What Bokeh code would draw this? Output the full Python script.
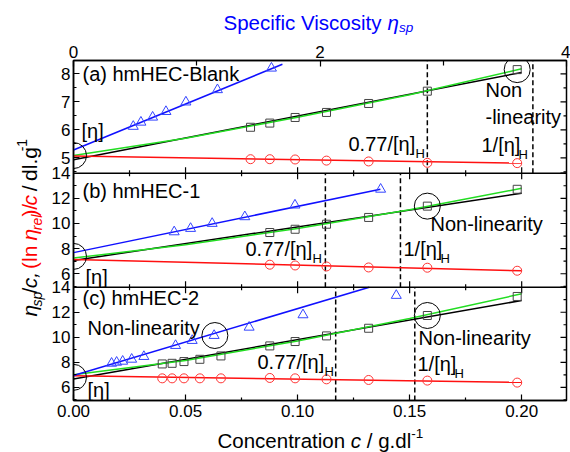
import math
from bokeh.plotting import figure
from bokeh.layouts import column, row
from bokeh.models import Range1d, LinearAxis, FixedTicker, NumeralTickFormatter, Label, Span
from bokeh.embed import file_html
from bokeh.resources import INLINE

# ---------------- data ----------------
# panel (a) hmHEC-Blank
C_A = [0.079, 0.0876, 0.0989, 0.1129, 0.1317, 0.1579, 0.198]
SQ_A = [6.09, 6.24, 6.44, 6.62, 6.94, 7.38, 8.15]          # eta_sp / c
CI_A = [4.95, 4.95, 4.94, 4.90, 4.87, 4.82, 4.81]          # (ln eta_rel) / c
ETA_A = [0.485, 0.547, 0.642, 0.750, 0.912, 1.168, 1.606]  # eta_sp (top axis)
TR_A = [6.12, 6.27, 6.45, 6.65, 6.99, 7.43, 8.20]
# panel (b) hmHEC-1
C_B = [0.0876, 0.0989, 0.1129, 0.1317, 0.1579, 0.198]
SQ_B = [9.28, 9.54, 9.94, 10.48, 11.38, 12.72]
CI_B = [6.72, 6.66, 6.58, 6.50, 6.48, 6.24]
ETA_B = [0.817, 0.950, 1.125, 1.390, 1.797, 2.492]
TR_B = [9.33, 9.60, 10.00, 10.53, 11.46, 12.72]
# panel (c) hmHEC-2
C_C = [0.0396, 0.0440, 0.0493, 0.0564, 0.0658, 0.0876, 0.0989, 0.1129, 0.1317, 0.1579, 0.198]
SQ_C = [7.87, 7.92, 8.06, 8.24, 8.51, 9.31, 9.66, 10.11, 10.72, 11.74, 13.26]
CI_C = [6.72, 6.72, 6.72, 6.72, 6.72, 6.75, 6.72, 6.64, 6.59, 6.54, 6.38]
ETA_C = [0.309, 0.350, 0.399, 0.472, 0.571, 0.828, 0.963, 1.141, 1.425, 1.862, 2.619]
TR_C = [7.92, 8.00, 8.08, 8.24, 8.46, 9.34, 9.74, 10.14, 10.80, 11.79, 13.34]

# fitted lines
FIT_C = [0.0, 0.2]
GREEN_C = [0.0, 0.05, 0.10, 0.15, 0.20]
BLK_A = [4.93, 8.05]; RED_A = [5.06, 4.81]; GRN_A = [5.08, 5.70, 6.45, 7.25, 8.18]
BLUE_ETA_A = [0.0, 1.695]; BLUE_A = [5.28, 8.34]
BLK_B = [7.06, 12.40]; RED_B = [7.14, 6.24]; GRN_B = [7.25, 8.30, 9.60, 11.10, 12.80]
BLUE_ETA_B = [0.0, 2.49]; BLUE_B = [7.68, 12.72]
BLK_C = [6.67, 12.94]; RED_C = [6.92, 6.40]; GRN_C = [7.00, 8.15, 9.70, 11.50, 13.47]
BLUE_ETA_C = [0.0, 2.40]; BLUE_C = [6.95, 14.0]

# dashed markers 0.77/[eta]_H and 1/[eta]_H
DASH_A = [0.1579, 0.205]
DASH_B = [0.1124, 0.1459]
DASH_C = [0.1170, 0.1523]

# ring highlights
RING_X_A = [0.0, 0.198]; RING_Y_A = [5.08, 8.15]
RING_X_B = [0.0, 0.1579]; RING_Y_B = [7.38, 11.38]
RING_X_C = [0.0, 0.1579]; RING_Y_C = [6.80, 11.74]
RING_ETA_C = [1.147]; RING_ETA_Y_C = [10.14]

# ticks
X_TICKS = [0.0, 0.05, 0.10, 0.15, 0.20]
X_MINOR = [0.025, 0.075, 0.125, 0.175]
ETA_TICKS = [0, 2, 4]
ETA_MINOR = [1, 3]
Y_TICKS = {"a": [5, 6, 7, 8], "b": [6, 8, 10, 12, 14], "c": [6, 8, 10, 12, 14]}
Y_MINOR = {"a": [4.5, 5.5, 6.5, 7.5], "b": [5, 7, 9, 11, 13], "c": [5, 7, 9, 11, 13]}

# ---------------- layout (canvas pixels) ----------------
FONT = "Liberation Sans"
W, H = 570, 452
FL, FR, FT, FB = 73, 566, 60, 400       # plot frame in the page
TOP_H = 36                              # strip holding the top title
LEFT_W = 46                             # strip holding the rotated y title
BOT_Y = 425                             # where the bottom title strip starts
GH = FB - FT
PANELS = {"a": (60.0, 172.7, 4.45, 8.475),
          "b": (172.7, 286.7, 4.93, 14.0),
          "c": (286.7, 400.0, 4.95, 14.0)}


def gpos(name, v):
    top, bot, lo, hi = PANELS[name]
    g0, g1 = FB - bot, FB - top
    return round(g0 + (v - lo) * (g1 - g0) / (hi - lo), 3)


def yrange(name):
    top, bot, lo, hi = PANELS[name]
    g0, g1 = FB - bot, FB - top
    k = (hi - lo) / (g1 - g0)
    return Range1d(lo - g0 * k, hi + (GH - g1) * k)


p = figure(width=W - LEFT_W, height=BOT_Y - TOP_H, x_range=Range1d(0, 0.22), y_range=Range1d(0, GH),
           x_axis_type=None, y_axis_type=None, output_backend="svg",
           toolbar_location=None, min_border_left=FL - LEFT_W, min_border_right=W - FR,
           min_border_top=FT - TOP_H, min_border_bottom=BOT_Y - FB)
p.outline_line_color = "black"
p.outline_line_width = 1.5
p.background_fill_color = "white"
p.border_fill_color = "white"
p.extra_x_ranges = {"visc": Range1d(0, 4), "px": Range1d(0, FR - FL)}
p.extra_y_ranges = {k: yrange(k) for k in PANELS}


def style_axis(ax, standoff):
    ax.axis_line_width = 1.5
    ax.major_tick_in = 6
    ax.major_tick_out = 0
    ax.minor_tick_in = 3
    ax.minor_tick_out = 0
    ax.major_tick_line_width = 1.2
    ax.minor_tick_line_width = 1.2
    ax.major_label_text_font = FONT
    ax.major_label_text_font_size = "17px"
    ax.major_label_text_color = "black"
    ax.major_label_standoff = standoff


xb = LinearAxis(ticker=FixedTicker(ticks=X_TICKS, minor_ticks=X_MINOR),
                formatter=NumeralTickFormatter(format="0.00"))
style_axis(xb, 4)
p.add_layout(xb, "below")

xt = LinearAxis(x_range_name="visc", ticker=FixedTicker(ticks=ETA_TICKS, minor_ticks=ETA_MINOR))
style_axis(xt, 3)
xt.minor_tick_in = 5
p.add_layout(xt, "above")

gt, gm, ov = [], [], {}
for k in PANELS:
    for v in Y_TICKS[k]:
        g = gpos(k, v)
        gt.append(g)
        ov[g] = str(v)
    for v in Y_MINOR[k]:
        gm.append(gpos(k, v))
yl = LinearAxis(ticker=FixedTicker(ticks=gt, minor_ticks=gm), major_label_overrides=ov)
style_axis(yl, 3)
p.add_layout(yl, "left")

# panel separators with their ticks
for k in ("b", "c"):
    gb = round(FB - PANELS[k][0], 3)
    p.add_layout(Span(location=gb, dimension="width", line_color="black", line_width=1.5))
    for ticks, ln in ((X_TICKS, 6), (X_MINOR, 3)):
        n = len(ticks)
        p.segment(x0=ticks, x1=ticks, y0=[gb - ln] * n, y1=[gb + ln] * n,
                  line_color="black", line_width=1.2)

# right-side ticks
rx = FR - FL
p.segment(x0=[rx] * len(gt), x1=[rx - 6] * len(gt), y0=gt, y1=gt,
          x_range_name="px", line_color="black", line_width=1.2)
p.segment(x0=[rx] * len(gm), x1=[rx - 3] * len(gm), y0=gm, y1=gm,
          x_range_name="px", line_color="black", line_width=1.2)

BLUE, RED, GREEN, GREY = "#1010ff", "#ff1010", "#22dd22", "#444444"
series = {
    "a": (C_A, SQ_A, CI_A, ETA_A, TR_A, BLK_A, RED_A, GRN_A, BLUE_ETA_A, BLUE_A, DASH_A, RING_X_A, RING_Y_A),
    "b": (C_B, SQ_B, CI_B, ETA_B, TR_B, BLK_B, RED_B, GRN_B, BLUE_ETA_B, BLUE_B, DASH_B, RING_X_B, RING_Y_B),
    "c": (C_C, SQ_C, CI_C, ETA_C, TR_C, BLK_C, RED_C, GRN_C, BLUE_ETA_C, BLUE_C, DASH_C, RING_X_C, RING_Y_C),
}
for k, (cx, sq, ci, eta, tr, blk, red, grn, beta, blu, dash, rgx, rgy) in series.items():
    top, bot, lo, hi = PANELS[k]
    p.segment(x0=dash, x1=dash, y0=[lo] * len(dash), y1=[hi] * len(dash), y_range_name=k,
              line_color="black", line_width=1.5, line_dash="5 3")
    p.line(FIT_C, blk, y_range_name=k, line_color="black", line_width=1.5)
    p.line(GREEN_C, grn, y_range_name=k, line_color=GREEN, line_width=1.5)
    p.line(FIT_C, red, y_range_name=k, line_color=RED, line_width=1.5)
    p.line(beta, blu, x_range_name="visc", y_range_name=k, line_color=BLUE, line_width=1.5)
    p.scatter(cx, sq, y_range_name=k, marker="square", size=8, fill_color=None,
              line_color=GREY, line_width=1)
    p.scatter(cx, ci, y_range_name=k, marker="circle", size=9, fill_color=None,
              line_color="#ff3333", line_width=1)
    p.scatter(eta, tr, x_range_name="visc", y_range_name=k, marker="triangle", size=10,
              fill_color=None, line_color="#3344ff", line_width=1)
    p.scatter(rgx, rgy, y_range_name=k, marker="circle", size=26, fill_color=None,
              line_color="black", line_width=1)
p.scatter(RING_ETA_C, RING_ETA_Y_C, x_range_name="visc", y_range_name="c", marker="circle",
          size=26, fill_color=None, line_color="black", line_width=1)

# character widths (em) for chaining text pieces
CW = {"η": 0.556, "s": 0.5, "p": 0.556, "/": 0.278, "c": 0.5, ",": 0.278, " ": 0.278,
      "(": 0.333, "l": 0.222, "n": 0.556, "r": 0.333, "e": 0.556, ")": 0.333, "d": 0.556,
      ".": 0.278, "g": 0.556, "-": 0.333, "1": 0.556, "C": 0.722, "o": 0.556, "t": 0.278,
      "a": 0.556, "i": 0.222, "S": 0.667, "f": 0.278, "V": 0.667, "y": 0.5}
SP = 0.278   # width of a space, em


def tw(t, size):
    return sum(CW.get(ch, 0.55) for ch in t) * size


def make_lab(fig, units, ox, oy):
    def lab(text, px, py, size=20, color="black", style="normal", angle=0.0):
        if units == "screen":
            x, y = px - ox, oy - py
        else:
            x, y = px, py
        fig.add_layout(Label(x=x, y=y, x_units=units, y_units=units, text=text,
                             text_font=FONT, text_font_size=f"{size}px", text_color=color,
                             text_font_style=style, text_align="left", text_baseline="middle",
                             angle=angle))
    return lab


lab = make_lab(p, "screen", FL, FB)

# panel texts
lab("(a) hmHEC-Blank", 82, 73)
lab("[η]", 81, 130)
lab("Non", 485, 89)
lab("-linearity", 485, 116)
lab("0.77/[η]", 348, 143); lab("H", 415, 153, 13)
lab("1/[η]", 481, 144); lab("H", 518, 154, 13)
lab("(b) hmHEC-1", 82, 190)
lab("0.77/[η]", 245, 248); lab("H", 312, 258, 13)
lab("1/[η]", 403, 248); lab("H", 440, 258, 13)
lab("Non-linearity", 430, 223)
lab("[η]", 85, 276)
lab("(c) hmHEC-2", 82, 297)
lab("Non-linearity", 87, 327)
lab("0.77/[η]", 257, 361); lab("H", 324, 371, 13)
lab("Non-linearity", 418, 337)
lab("1/[η]", 417, 363); lab("H", 454, 373, 13)
lab("[η]", 87, 389)


def strip(x0, x1, y0, y1):
    f = figure(width=x1 - x0, height=y1 - y0, x_range=Range1d(x0, x1), y_range=Range1d(y1, y0),
               x_axis_type=None, y_axis_type=None, output_backend="svg", toolbar_location=None,
               min_border=0)
    f.outline_line_color = None
    f.background_fill_color = "white"
    f.border_fill_color = "white"
    return f


def chain(lab_fn, pieces, x0, y0, vertical=False):
    # pieces: (text, size, style, color, offset across the baseline, spaces after)
    pos = y0 if vertical else x0
    for t, size, style, color, off, gap in pieces:
        if vertical:
            lab_fn(t, x0 + off, pos, size, color, style, angle=math.pi / 2)
            pos -= tw(t, size) + gap * SP * size
        else:
            lab_fn(t, pos, y0 + off, size, color, style)
            pos += tw(t, size) + gap * SP * size


# top title strip
top = strip(0, W, 0, TOP_H)
chain(make_lab(top, "data", 0, 0),
      [("Specific Viscosity", 20.5, "normal", "#0000ff", 0, 1),
       ("η", 20.5, "italic", "#0000ff", 0, 0),
       ("sp", 13.5, "italic", "#0000ff", 5, 0)], 223, 22)

# bottom title strip
bot = strip(0, W, BOT_Y, H)
chain(make_lab(bot, "data", 0, 0),
      [("Concentration", 20.5, "normal", "black", 0, 1),
       ("c", 20.5, "italic", "black", 0, 1),
       ("/", 20.5, "normal", "black", 0, 1),
       ("g.dl", 20.5, "normal", "black", 0, 0),
       ("-1", 13.5, "normal", "black", -7, 0)], 217, 440)

# left rotated title strip
left = strip(0, LEFT_W, TOP_H, BOT_Y)
chain(make_lab(left, "data", 0, 0),
      [("η", 21, "italic", "black", 0, 0), ("sp", 14, "italic", "black", 7, 0),
       ("/", 21, "normal", "black", 0, 0), ("c,", 21, "italic", "black", 0, 1),
       ("(ln", 21, "normal", "red", 0, 1.6), ("η", 21, "italic", "red", 0, 0),
       ("rel", 14, "italic", "red", 7, 0), (")/", 21, "normal", "red", 0, 0),
       ("c", 21, "italic", "red", 0, 1), ("/", 21, "normal", "black", 0, 1),
       ("dl.g", 21, "normal", "black", 0, 0), ("-1", 14, "normal", "black", -8, 0)],
      29, 329, vertical=True)

layout = column(top, row(left, p, spacing=0), bot, spacing=0)
open("out.html", "w").write(file_html(layout, INLINE))
